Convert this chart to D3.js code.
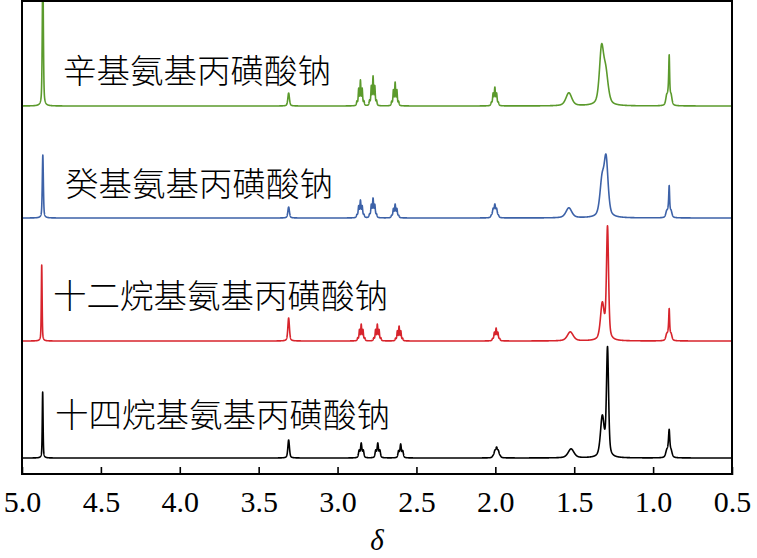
<!DOCTYPE html>
<html>
<head>
<meta charset="utf-8">
<script src="https://cdn.jsdelivr.net/npm/d3@7"></script>
<style>
  body { margin: 0; background: #fff; }
</style>
</head>
<body>
<div id="chart"></div>
<script>
// sample names, top to bottom
var samples = ["辛基氨基丙磺酸钠", "癸基氨基丙磺酸钠", "十二烷基氨基丙磺酸钠", "十四烷基氨基丙磺酸钠"];
var colors = ["#5b9a2c", "#3d62a8", "#d7242c", "#000000"];
var xTicks = [5.0, 4.5, 4.0, 3.5, 3.0, 2.5, 2.0, 1.5, 1.0, 0.5];

// peaks: [shift (ppm), height, half width (ppm), lines, line spacing (ppm)]
var octylPeaks = [
  [4.868, 140, 0.004, 1, 0],
  [3.31, 13, 0.006, 1, 0],
  [2.855, 26, 0.0035, 5, 0.011],
  [2.775, 30, 0.0035, 5, 0.011],
  [2.635, 24, 0.0035, 5, 0.011],
  [2.003, 19, 0.004, 5, 0.011],
  [1.534, 13, 0.022, 1, 0],
  [1.327, 54, 0.016, 1, 0],
  [1.300, 30, 0.018, 1, 0],
  [0.898, 32, 0.003, 1, 0],
  [0.90, 20, 0.007, 3, 0.014]
];
var decylPeaks = [
  [4.868, 63, 0.004, 1, 0],
  [3.31, 11, 0.006, 1, 0],
  [2.855, 18, 0.004, 5, 0.011],
  [2.775, 20, 0.004, 5, 0.011],
  [2.635, 14, 0.004, 5, 0.011],
  [2.003, 14, 0.005, 5, 0.011],
  [1.534, 10, 0.022, 1, 0],
  [1.324, 34, 0.016, 1, 0],
  [1.298, 56, 0.015, 1, 0],
  [0.898, 20, 0.003, 1, 0],
  [0.90, 13, 0.007, 3, 0.014]
];
var dodecylPeaks = [
  [4.875, 76, 0.003, 1, 0],
  [3.31, 23, 0.006, 1, 0],
  [2.85, 17, 0.0035, 5, 0.011],
  [2.748, 17, 0.0035, 5, 0.011],
  [2.61, 15, 0.0035, 5, 0.011],
  [1.995, 13, 0.004, 5, 0.011],
  [1.525, 9, 0.022, 1, 0],
  [1.322, 36, 0.014, 1, 0],
  [1.289, 112, 0.008, 1, 0],
  [0.898, 20, 0.003, 1, 0],
  [0.90, 13, 0.007, 3, 0.014]
];
var tetradecylPeaks = [
  [4.869, 66, 0.003, 1, 0],
  [3.31, 18, 0.006, 1, 0],
  [2.85, 15, 0.005, 3, 0.013],
  [2.745, 15, 0.005, 3, 0.013],
  [2.60, 14, 0.005, 3, 0.013],
  [1.992, 11, 0.006, 5, 0.011],
  [1.52, 9, 0.022, 1, 0],
  [1.322, 40, 0.014, 1, 0],
  [1.289, 108, 0.008, 1, 0],
  [0.898, 15, 0.004, 1, 0],
  [0.90, 14, 0.008, 3, 0.014]
];
var spectra = [octylPeaks, decylPeaks, dodecylPeaks, tetradecylPeaks];

var width = 757, height = 558;
var margin = { left: 22, right: 25, top: 1, bottom: 83 };
var baselines = [106, 218, 341, 458];
var labelPos = [[63, 68], [65, 181], [53, 293], [55, 412]];

var svg = d3.select("#chart").append("svg")
  .attr("width", width).attr("height", height)
  .style("font-family", "'Liberation Serif', 'Times New Roman', serif");

var x = d3.scaleLinear().domain([5.0, 0.5]).range([margin.left, width - margin.right]);

svg.append("clipPath").attr("id", "plotclip")
  .append("rect")
  .attr("x", margin.left).attr("y", margin.top)
  .attr("width", width - margin.left - margin.right)
  .attr("height", height - margin.top - margin.bottom);

// pseudo-Voigt line shape
function shape(d, w) {
  var t = d / w;
  return 0.5 / (1 + t * t) + 0.5 * Math.exp(-Math.LN2 * t * t);
}

var grid = d3.range(5.0, 0.5, -0.0005);

function spectrum(peaks) {
  var total = grid.map(() => 0);
  peaks.forEach((p) => {
    var n = p[3];
    var wts = d3.range(n).map((k) => {
      // binomial weights
      var c = 1;
      for (var j = 0; j < k; j++) c = c * (n - 1 - j) / (j + 1);
      return c;
    });
    var part = grid.map((g) => {
      var s = 0;
      for (var k = 0; k < n; k++) {
        var pos = p[0] + (k - (n - 1) / 2) * p[4];
        s += wts[k] * shape(g - pos, p[2]);
      }
      return s;
    });
    var mx = d3.max(part);
    part.forEach((v, i) => { total[i] += v / mx * p[1]; });
  });
  return grid.map((g, i) => [g, total[i]]);
}

var plot = svg.append("g").attr("clip-path", "url(#plotclip)");

spectra.forEach((peaks, i) => {
  var y = d3.scaleLinear().domain([0, 100]).range([baselines[i], baselines[i] - 100]);
  var line = d3.line().x((d) => x(d[0])).y((d) => y(d[1]));
  plot.append("path")
    .datum(spectrum(peaks))
    .attr("d", line)
    .attr("fill", "none")
    .attr("stroke", colors[i])
    .attr("stroke-width", 1.6)
    .attr("stroke-linejoin", "round");

  svg.append("text")
    .attr("x", labelPos[i][0])
    .attr("y", labelPos[i][1])
    .attr("dominant-baseline", "central")
    .style("font-family", "'Noto Sans CJK SC', sans-serif")
    .style("font-weight", 300)
    .style("font-size", "33.5px")
    .attr("fill", "#000")
    .text(samples[i]);
});

// frame
svg.append("rect")
  .attr("x", margin.left).attr("y", margin.top)
  .attr("width", width - margin.left - margin.right)
  .attr("height", height - margin.top - margin.bottom - 1)
  .attr("fill", "none")
  .attr("stroke", "#000")
  .attr("stroke-width", 2);

var axisY = height - margin.bottom;
var xAxis = svg.append("g")
  .attr("transform", `translate(0,${axisY})`)
  .call(d3.axisBottom(x).tickValues(xTicks).tickFormat(d3.format(".1f")).tickSizeInner(-8).tickSizeOuter(0).tickPadding(16));
xAxis.select(".domain").remove();
xAxis.selectAll("line").attr("stroke", "#000").attr("stroke-width", 1.6);
xAxis.selectAll("text")
  .style("font-family", "'Liberation Serif', 'Times New Roman', serif")
  .style("font-size", "30px")
  .attr("fill", "#000");

svg.append("text")
  .attr("x", (margin.left + width - margin.right) / 2)
  .attr("y", 550)
  .attr("text-anchor", "middle")
  .style("font-size", "29px")
  .style("font-style", "italic")
  .text("δ");
</script>
</body>
</html>
